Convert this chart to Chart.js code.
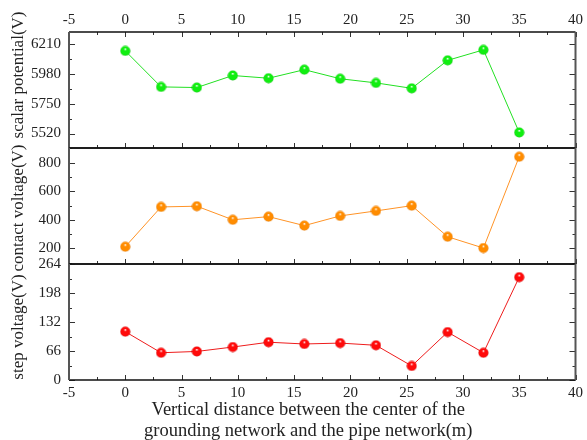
<!DOCTYPE html>
<html>
<head>
<meta charset="utf-8">
<script src="https://cdn.jsdelivr.net/npm/chart.js@4.4.0/dist/chart.umd.min.js"></script>
<style>
  html, body { margin: 0; padding: 0; background: #fff; }
  #wrap { width: 587px; height: 440px; }
</style>
</head>
<body>
<div id="wrap"><canvas id="chart" width="587" height="440"></canvas></div>
<script>
// distance (m) of each measuring point
const distance = [0, 3.18, 6.36, 9.55, 12.73, 15.91, 19.09, 22.27, 25.45, 28.64, 31.82, 35];
const scalarPotential = [6158, 5880, 5875, 5968, 5947, 6013, 5943, 5911, 5869, 6085, 6166, 5528];
const contactVoltage = [211, 490, 495, 400, 422, 359, 427, 462, 499, 281, 202, 842];
const stepVoltage = [110, 62, 65, 75, 86, 82, 84, 79, 32, 109, 62, 234];

const xTicks = [-5, 0, 5, 10, 15, 20, 25, 30, 35, 40];
const potTicks = [5520, 5750, 5980, 6210];
const contactTicks = [200, 400, 600, 800];
const stepTicks = [0, 66, 132, 198, 264];

const xTitle = ['Vertical distance between the center of the', 'grounding network and the pipe network(m)'];
const yTitles = ['scalar potential(V)', 'contact voltage(V)', 'step voltage(V)'];

const serif = 'Liberation Serif';

// small shaded ball used as point marker
function ball(color, edge) {
  const c = document.createElement('canvas');
  c.width = c.height = 11;
  const g = c.getContext('2d');
  const grad = g.createRadialGradient(5.5, 3.6, 0.3, 5.5, 5.5, 5.5);
  grad.addColorStop(0, '#ffffff');
  grad.addColorStop(0.22, color);
  grad.addColorStop(0.8, color);
  grad.addColorStop(1, edge);
  g.fillStyle = grad;
  g.beginPath();
  g.arc(5.5, 5.5, 5, 0, Math.PI * 2);
  g.fill();
  return c;
}

function points(ys) {
  return distance.map((d, i) => ({ x: d, y: ys[i] }));
}

function fixedTicks(list) {
  return scale => { scale.ticks = list.map(v => ({ value: v })); };
}

function minors(list, min, max) {
  const step = list[1] - list[0];
  const out = [];
  for (let v = list[0] - step / 2; v <= max; v += step) {
    if (v >= min && !list.includes(v)) out.push(v);
  }
  return out;
}

const tickFont = { family: serif, size: 15 };
const plain = v => String(v);

function yScale(min, max, list) {
  return {
    type: 'linear',
    position: 'left',
    stack: 'panels',
    stackWeight: 1,
    min: min,
    max: max,
    afterBuildTicks: fixedTicks(list),
    afterFit: s => { s.width = 69; },
    grid: { display: false, drawTicks: false },
    border: { display: false },
    ticks: { font: tickFont, color: '#222', padding: 8, autoSkip: false, callback: plain }
  };
}

/* frame and inward tick marks of each panel */
const panelFrame = {
  id: 'panelFrame',
  afterDraw(chart) {
    const { ctx, chartArea: { left, right } } = chart;
    const xs = chart.scales.x;
    const xMin = minors(xTicks, -5, 40);
    const defs = [
      ['yPot', potTicks], ['yContact', contactTicks], ['yStep', stepTicks]
    ];
    ctx.save();
    defs.forEach(([id, list], i) => {
      const ys = chart.scales[id];
      const top = ys.top, bottom = ys.bottom;
      const yMin = minors(list, ys.min, ys.max);
      ctx.strokeStyle = '#333';
      ctx.lineWidth = 1;
      ctx.beginPath();
      xTicks.forEach(v => {
        const px = Math.round(xs.getPixelForValue(v)) + 0.5;
        ctx.moveTo(px, bottom); ctx.lineTo(px, bottom - 5);
        if (i === 0) { ctx.moveTo(px, top); ctx.lineTo(px, top + 5); }
      });
      xMin.forEach(v => {
        const px = Math.round(xs.getPixelForValue(v)) + 0.5;
        ctx.moveTo(px, bottom); ctx.lineTo(px, bottom - 3);
        if (i === 0) { ctx.moveTo(px, top); ctx.lineTo(px, top + 3); }
      });
      list.forEach(v => {
        const py = Math.round(ys.getPixelForValue(v)) + 0.5;
        ctx.moveTo(left, py); ctx.lineTo(left + 6, py);
        ctx.moveTo(right, py); ctx.lineTo(right - 6, py);
      });
      yMin.forEach(v => {
        const py = Math.round(ys.getPixelForValue(v)) + 0.5;
        ctx.moveTo(left, py); ctx.lineTo(left + 3, py);
        ctx.moveTo(right, py); ctx.lineTo(right - 3, py);
      });
      ctx.stroke();
      // top and bottom edges
      ctx.beginPath();
      ctx.strokeStyle = '#111';
      ctx.lineWidth = 1.5;
      ctx.moveTo(left, top); ctx.lineTo(right, top);
      ctx.moveTo(left, bottom); ctx.lineTo(right, bottom);
      ctx.stroke();
      // side edges
      ctx.beginPath();
      ctx.strokeStyle = '#555';
      ctx.lineWidth = 2;
      ctx.moveTo(left, top); ctx.lineTo(left, bottom);
      ctx.moveTo(right, top); ctx.lineTo(right, bottom);
      ctx.stroke();
    });
    ctx.restore();
  }
};

/* axis titles: the y titles sit a bit off the panel centres, the x title is centred on the figure */
const axisTitles = {
  id: 'axisTitles',
  afterDraw(chart) {
    const { ctx, chartArea } = chart;
    const yCentres = [75, 208, 327];
    ctx.save();
    ctx.fillStyle = '#222';
    ctx.textAlign = 'center';
    ctx.textBaseline = 'middle';
    ctx.font = '17px "' + serif + '"';
    yTitles.forEach((t, i) => {
      ctx.save();
      ctx.translate(19, yCentres[i]);
      ctx.rotate(-Math.PI / 2);
      ctx.fillText(t, 0, 0);
      ctx.restore();
    });
    ctx.font = '18.5px "' + serif + '"';
    const cx = (chartArea.left + chartArea.right) / 2 - 14;
    xTitle.forEach((t, i) => {
      ctx.fillText(t, cx, chartArea.bottom + 30 + i * 21);
    });
    ctx.restore();
  }
};

function series(data, yAxisID, line, fill, edge) {
  return {
    data: points(data),
    xAxisID: 'x',
    yAxisID: yAxisID,
    borderColor: line,
    borderWidth: 1,
    pointStyle: ball(fill, edge),
    pointRadius: 5,
    tension: 0
  };
}

const ctx = document.getElementById('chart').getContext('2d');

new Chart(ctx, {
  type: 'line',
  data: {
    datasets: [
      series(scalarPotential, 'yPot', '#22e022', '#11ee11', '#0aa00a'),
      series(contactVoltage, 'yContact', '#ff9326', '#ff8c00', '#c96400'),
      series(stepVoltage, 'yStep', '#ee1c1c', '#ff0a0a', '#b00000')
    ]
  },
  options: {
    responsive: false,
    animation: false,
    devicePixelRatio: 1,
    layout: { padding: { left: 0, right: 10, top: 0, bottom: 0 } },
    plugins: {
      legend: { display: false },
      tooltip: { enabled: false }
    },
    scales: {
      x: {
        type: 'linear',
        position: 'bottom',
        min: -5,
        max: 40,
        afterBuildTicks: fixedTicks(xTicks),
        afterFit: s => { s.height = 60; },
        grid: { display: false, drawTicks: false },
        border: { display: false },
        ticks: { font: tickFont, color: '#222', padding: 4, maxRotation: 0, autoSkip: false, callback: plain }
      },
      x2: {
        type: 'linear',
        position: 'top',
        min: -5,
        max: 40,
        afterBuildTicks: fixedTicks(xTicks),
        afterFit: s => { s.height = 32; },
        grid: { display: false, drawTicks: false },
        border: { display: false },
        ticks: { font: tickFont, color: '#222', padding: 3, maxRotation: 0, autoSkip: false, callback: plain }
      },
      yStep: yScale(0, 264, stepTicks),
      yContact: yScale(90, 903, contactTicks),
      yPot: yScale(5408, 6304, potTicks)
    }
  },
  plugins: [panelFrame, axisTitles]
});
</script>
</body>
</html>
